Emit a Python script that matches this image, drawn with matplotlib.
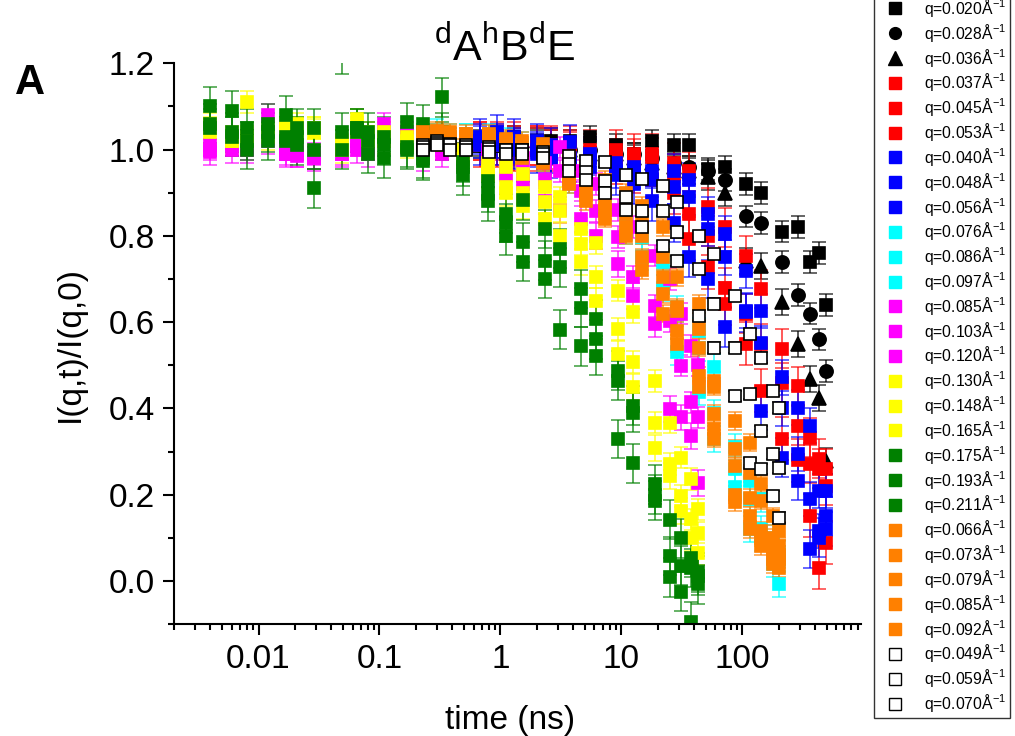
import numpy as np
import matplotlib
matplotlib.use('Agg')
import matplotlib.pyplot as plt
from matplotlib.lines import Line2D
from matplotlib.ticker import FixedLocator, LogLocator, MultipleLocator, NullFormatter

plt.rcParams['font.family'] = ['Liberation Sans', 'DejaVu Sans']
plt.rcParams['mathtext.fontset'] = 'custom'
plt.rcParams['mathtext.rm'] = 'Liberation Sans'
plt.rcParams['mathtext.it'] = 'Liberation Sans'
plt.rcParams['mathtext.bf'] = 'Liberation Sans:bold'
plt.rcParams['mathtext.default'] = 'regular'

# time grids (ns)
t_low = [0.68, 0.93, 1.3, 2.0, 2.64, 3.75, 5.56, 9.1, 12.7, 18.1, 27.1, 36.1,
         52, 72, 108, 144, 215, 289, 361, 431, 496]
t_mid = [0.23, 0.30, 0.38, 0.52, 0.81, 1.11, 1.52, 2.25, 3.7, 5.15, 7.3, 11,
         14.7, 21.9, 29.1, 43.9, 58.4, 87.7, 115, 144, 178, 201]
t_high = [0.004, 0.006, 0.008, 0.012, 0.017, 0.021, 0.029, 0.049, 0.065, 0.081,
          0.11, 0.17, 0.23, 0.33, 0.49, 0.79, 1.11, 1.54, 2.35, 3.14, 4.68, 6.2,
          9.4, 12.5, 18.9, 25.1, 31.4, 38, 43]

# I(q,t)/I(q,0)
I_020 = [1.02, 1.02, 1.03, 1.02, 1.02, 1.02, 1.03, 1.01, 0.99, 1.02, 1.01, 1.01,
         0.955, 0.96, 0.92, 0.90, 0.81, 0.82, 0.74, 0.76, 0.64]
I_028 = [1.01, 1.02, 1.01, 1.01, 1.0, 1.0, 1.0, 0.99, 0.99, 0.98, 0.97, 0.96,
         0.95, 0.93, 0.845, 0.83, 0.74, 0.663, 0.62, 0.56, 0.487]
I_036 = [1.01, 1.01, 1.02, 1.02, 1.02, 1.0, 0.99, 0.99, 0.98, 0.97, 0.96, 0.95,
         0.936, 0.90, 0.742, 0.731, 0.646, 0.549, 0.468, 0.425, 0.278]
I_037 = [1.02, 1.02, 1.02, 1.01, 1.01, 1.01, 1.0, 1.0, 0.99, 0.99, 0.97, 0.95,
         0.866, 0.82, 0.754, 0.677, 0.538, 0.452, 0.332, 0.283, 0.26]
I_045 = [1.02, 1.01, 1.01, 1.01, 1.0, 1.0, 0.99, 0.98, 0.98, 0.982, 0.944, 0.85,
         0.80, 0.68, 0.62, 0.55, 0.46, 0.36, 0.271, 0.26, 0.22]
I_053 = [1.01, 1.01, 1.0, 1.0, 1.0, 0.99, 0.98, 0.97, 0.95, 0.93, 0.90, 0.793,
         0.727, 0.643, 0.55, 0.441, 0.33, 0.28, 0.151, 0.031, 0.089]
I_040 = [1.03, 1.04, 1.03, 1.02, 1.01, 1.017, 0.99, 0.97, 0.96, 0.951, 0.95, 0.93,
         0.851, 0.805, 0.719, 0.626, 0.472, 0.402, 0.36, 0.209, 0.209]
I_048 = [1.02, 1.02, 1.01, 1.0, 0.986, 0.98, 0.982, 0.951, 0.951, 0.93, 0.913, 0.889,
         0.817, 0.75, 0.626, 0.551, 0.40, 0.294, 0.19, 0.116, 0.12]
I_056 = [1.01, 1.01, 1.0, 0.99, 0.98, 0.97, 0.96, 0.94, 0.92, 0.88, 0.83, 0.75,
         0.70, 0.588, 0.623, 0.394, 0.286, 0.232, 0.074, 0.1, 0.15]
I_076 = [1.03, 1.04, 1.03, 1.03, 1.03, 1.02, 1.01, 1.0, 0.95, 0.94, 0.90, 0.85,
         0.82, 0.75, 0.63, 0.58, 0.495, 0.31, 0.232, 0.19, 0.10, 0.062]
I_086 = [1.03, 1.03, 1.02, 1.03, 1.02, 1.01, 1.0, 0.99, 0.936, 0.92, 0.878, 0.812,
         0.797, 0.739, 0.62, 0.54, 0.39, 0.26, 0.19, 0.12, 0.08, 0.05]
I_097 = [1.02, 1.03, 1.02, 1.02, 1.01, 1.0, 0.99, 0.98, 0.93, 0.90, 0.86, 0.82,
         0.75, 0.68, 0.53, 0.437, 0.329, 0.217, 0.12, 0.10, 0.04, -0.008]
I_085m = [1.0, 1.01, 1.0, 1.08, 0.99, 0.985, 0.98, 0.99, 1.02, 1.01, 1.06, 1.03, 1.0, 1.01,
          1.0, 1.0, 0.99, 0.98, 0.97, 1.005, 0.95, 0.92, 0.86, 0.82, 0.754, 0.70, 0.62, 0.545, 0.50]
I_103 = [1.01, 1.01, 1.02, 1.04, 1.0, 1.0, 0.99, 1.0, 1.01, 1.0, 1.04, 1.04, 0.99, 1.0,
         0.99, 0.98, 0.97, 0.95, 0.93, 0.95, 0.905, 0.858, 0.797, 0.704, 0.638, 0.603, 0.499, 0.414, 0.379]
I_120 = [0.995, 1.0, 1.0, 1.02, 0.99, 0.99, 0.98, 0.99, 1.0, 0.99, 1.02, 1.02, 0.98, 0.99,
         0.98, 0.96, 0.94, 0.92, 0.88, 0.86, 0.84, 0.80, 0.735, 0.66, 0.596, 0.398, 0.379, 0.336, 0.228]
I_130 = [1.06, 1.02, 1.11, 1.04, 1.06, 1.06, 1.05, 1.02, 1.07, 1.04, 1.04, 1.03, 1.02, 1.03,
         1.0, 0.97, 0.96, 0.943, 0.913, 0.889, 0.816, 0.783, 0.673, 0.623, 0.464, 0.367, 0.286, 0.236, 0.166]
I_148 = [1.05, 1.03, 1.03, 1.04, 1.05, 1.05, 1.05, 1.01, 1.05, 1.03, 1.03, 1.02, 1.01, 1.02,
         0.99, 0.95, 0.913, 0.90, 0.878, 0.858, 0.781, 0.704, 0.584, 0.507, 0.367, 0.271, 0.197, 0.143, 0.112]
I_165 = [1.04, 1.02, 1.02, 1.03, 1.04, 1.04, 1.04, 1.0, 1.04, 1.02, 1.02, 1.01, 1.0, 1.01,
         0.98, 0.94, 0.90, 0.87, 0.84, 0.80, 0.739, 0.65, 0.526, 0.45, 0.309, 0.244, 0.162, 0.10, 0.066]
I_175 = [1.10, 1.09, 1.05, 1.06, 1.08, 1.05, 1.05, 1.04, 1.05, 1.04, 1.03, 1.063, 1.059, 1.121,
         0.971, 0.928, 0.851, 0.882, 0.816, 0.77, 0.677, 0.607, 0.487, 0.406, 0.224, 0.142, 0.099, 0.054, 0.012]
I_193 = [1.05, 1.04, 1.0, 1.02, 1.03, 1.01, 1.0, 1.0, 1.05, 0.99, 0.98, 1.0, 0.974, 1.04,
         0.96, 0.90, 0.83, 0.785, 0.742, 0.727, 0.633, 0.56, 0.464, 0.273, 0.186, 0.058, 0.035, -0.094, -0.008]
I_211 = [1.06, 1.03, 1.02, 1.04, 1.02, 1.03, 0.91, 1.22, 1.04, 1.02, 1.01, 1.005, 0.98, 1.02,
         0.94, 0.88, 0.80, 0.74, 0.70, 0.582, 0.544, 0.522, 0.329, 0.39, 0.20, 0.009, -0.025, 0.03, 0.02]
I_066 = [1.04, 1.044, 1.04, 1.036, 1.036, 1.025, 1.02, 1.013, 0.98, 0.96, 0.93, 0.90,
         0.87, 0.82, 0.704, 0.642, 0.464, 0.371, 0.321, 0.224, 0.15, 0.116]
I_073 = [1.03, 1.04, 1.03, 1.03, 1.03, 1.02, 1.01, 1.0, 0.95, 0.94, 0.90, 0.88,
         0.828, 0.75, 0.634, 0.584, 0.45, 0.306, 0.25, 0.186, 0.10, 0.08]
I_079 = [1.03, 1.03, 1.02, 1.03, 1.02, 1.01, 1.0, 0.99, 0.936, 0.92, 0.878, 0.851,
         0.80, 0.704, 0.626, 0.541, 0.387, 0.267, 0.193, 0.116, 0.077, 0.05]
I_085o = [1.02, 1.03, 1.02, 1.02, 1.01, 1.0, 0.99, 0.98, 0.93, 0.90, 0.86, 0.82,
          0.75, 0.665, 0.58, 0.476, 0.352, 0.182, 0.151, 0.10, 0.039, 0.06]
I_092 = [1.02, 1.02, 1.01, 1.01, 1.0, 1.0, 0.98, 0.97, 0.92, 0.88, 0.84, 0.80,
         0.72, 0.62, 0.55, 0.45, 0.33, 0.20, 0.12, 0.08, 0.05, 0.03]
I_049 = [1.01, 1.02, 1.013, 1.01, 1.005, 1.0, 1.0, 0.995, 0.986, 0.974, 0.971, 0.94,
         0.932, 0.916, 0.878, 0.80, 0.758, 0.661, 0.572, 0.518, 0.441, 0.402]
I_059 = [1.005, 1.015, 1.01, 1.005, 1.002, 0.998, 0.998, 0.99, 0.967, 0.947, 0.928, 0.889,
         0.858, 0.858, 0.808, 0.723, 0.643, 0.541, 0.433, 0.348, 0.294, 0.263]
I_070 = [1.0, 1.01, 1.0, 1.0, 0.995, 0.99, 0.99, 0.98, 0.95, 0.93, 0.90, 0.86,
         0.82, 0.777, 0.742, 0.615, 0.541, 0.429, 0.274, 0.259, 0.197, 0.147]

# (q label, time, values, error, colour, marker, face)
series = [
    ('0.020', t_low, I_020, 0.025, 'black', 's', 'black'),
    ('0.028', t_low, I_028, 0.025, 'black', 'o', 'black'),
    ('0.036', t_low, I_036, 0.03, 'black', '^', 'black'),
    ('0.037', t_low, I_037, 0.045, '#ff0000', 's', '#ff0000'),
    ('0.045', t_low, I_045, 0.045, '#ff0000', 's', '#ff0000'),
    ('0.053', t_low, I_053, 0.05, '#ff0000', 's', '#ff0000'),
    ('0.040', t_low, I_040, 0.04, '#0000ff', 's', '#0000ff'),
    ('0.048', t_low, I_048, 0.04, '#0000ff', 's', '#0000ff'),
    ('0.056', t_low, I_056, 0.045, '#0000ff', 's', '#0000ff'),
    ('0.076', t_mid, I_076, 0.03, '#00ffff', 's', '#00ffff'),
    ('0.086', t_mid, I_086, 0.03, '#00ffff', 's', '#00ffff'),
    ('0.097', t_mid, I_097, 0.03, '#00ffff', 's', '#00ffff'),
    ('0.085', t_high, I_085m, 0.025, '#ff00ff', 's', '#ff00ff'),
    ('0.103', t_high, I_103, 0.025, '#ff00ff', 's', '#ff00ff'),
    ('0.120', t_high, I_120, 0.03, '#ff00ff', 's', '#ff00ff'),
    ('0.130', t_high, I_130, 0.025, '#ffff00', 's', '#ffff00'),
    ('0.148', t_high, I_148, 0.025, '#ffff00', 's', '#ffff00'),
    ('0.165', t_high, I_165, 0.03, '#ffff00', 's', '#ffff00'),
    ('0.175', t_high, I_175, 0.045, '#008000', 's', '#008000'),
    ('0.193', t_high, I_193, 0.045, '#008000', 's', '#008000'),
    ('0.211', t_high, I_211, 0.045, '#008000', 's', '#008000'),
    ('0.066', t_mid, I_066, 0.02, '#ff8000', 's', '#ff8000'),
    ('0.073', t_mid, I_073, 0.02, '#ff8000', 's', '#ff8000'),
    ('0.079', t_mid, I_079, 0.02, '#ff8000', 's', '#ff8000'),
    ('0.085', t_mid, I_085o, 0.02, '#ff8000', 's', '#ff8000'),
    ('0.092', t_mid, I_092, 0.02, '#ff8000', 's', '#ff8000'),
    ('0.049', t_mid, I_049, 0.012, 'black', 's', 'white'),
    ('0.059', t_mid, I_059, 0.012, 'black', 's', 'white'),
    ('0.070', t_mid, I_070, 0.012, 'black', 's', 'white'),
]

fig = plt.figure(figsize=(10.15, 7.36), dpi=100)
ax = fig.add_axes([0.1714, 0.152, 0.6764, 0.762])

handles = []
labels = []
for q, t, I, err, col, mk, face in series:
    ms = 9 if mk == 's' else (9.5 if mk == 'o' else 10.5)
    ecol = matplotlib.colors.to_rgba(col, 0.7)
    ax.errorbar(t, I, yerr=err, fmt=mk, ms=ms, mfc=face, mec=col, mew=1.2,
                ecolor=ecol, elinewidth=1.3, capsize=5, capthick=1.3,
                linestyle='none')
    handles.append(Line2D([], [], marker=mk, linestyle='none', ms=ms - 1.0,
                          mfc=face, mec=col, mew=1.0))
    labels.append('q=' + q + 'Å$^{-1}$')

ax.set_xscale('log')
ax.set_xlim(0.002, 950)
ax.set_ylim(-0.1, 1.2)

ax.xaxis.set_major_locator(FixedLocator([0.01, 0.1, 1, 10, 100]))
ax.set_xticklabels(['0.01', '0.1', '1', '10', '100'])
ax.xaxis.set_minor_locator(LogLocator(base=10, subs=np.arange(2, 10), numticks=20))
ax.xaxis.set_minor_formatter(NullFormatter())
ax.yaxis.set_minor_locator(MultipleLocator(0.1))
ax.set_yticks([0.0, 0.2, 0.4, 0.6, 0.8, 1.0, 1.2])
ax.set_yticklabels(['0.0', '0.2', '0.4', '0.6', '0.8', '1.0', '1.2'])

for s in ['top', 'right']:
    ax.spines[s].set_visible(False)
for s in ['left', 'bottom']:
    ax.spines[s].set_linewidth(1.5)
ax.tick_params(axis='both', which='major', direction='out', length=8, width=1.5,
               labelsize=24, pad=6)
ax.tick_params(axis='both', which='minor', direction='out', length=4.5, width=1.5)

ax.set_xlabel('time (ns)', fontsize=24)
ax.set_ylabel('I(q,t)/I(q,0)', fontsize=24)
ax.xaxis.set_label_coords(0.49, -0.145)
ax.yaxis.set_label_coords(-0.128, 0.5)

fig.text(0.4966, 0.918, r'$^{d}A^{h}B^{d}E$', fontsize=31,
         ha='center', va='baseline')
fig.text(0.015, 0.872, 'A', fontsize=30, fontweight='bold', va='baseline')

leg = fig.legend(handles, labels, loc='lower left', bbox_to_anchor=(0.861, 0.0245),
                 borderaxespad=0, fontsize=11.3, frameon=True, fancybox=False,
                 handlelength=2.25, handletextpad=0.7, labelspacing=0.18,
                 borderpad=0.25, markerscale=1.0)
leg.get_frame().set_edgecolor('black')
leg.get_frame().set_linewidth(1.0)

fig.savefig('out.png', dpi=100)
